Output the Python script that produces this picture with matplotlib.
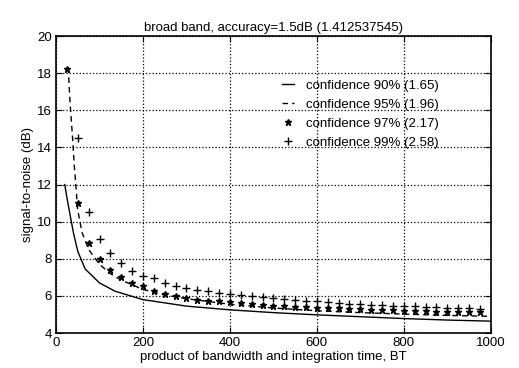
import matplotlib
matplotlib.use('Agg')
import matplotlib.pyplot as plt
import numpy as np

plt.rcParams['font.family'] = ['Liberation Sans', 'DejaVu Sans']

# curves (BT, dB)
bt_90 = [20, 25, 32, 40, 50, 67, 100, 136, 200, 300, 400, 500, 600, 700, 800, 900, 1000]
snr_90 = [12.0, 11.3, 10.4, 9.4, 8.4, 7.45, 6.7, 6.25, 5.8, 5.45, 5.25, 5.1, 4.98, 4.88, 4.78, 4.7, 4.64]

bt_95 = [28, 32, 38, 42, 46, 50, 60, 75, 100, 125, 150, 200, 250, 300, 400, 500, 600, 700, 800, 900, 1000]
snr_95 = [18.3, 16.5, 14.5, 13.0, 11.8, 10.6, 9.4, 8.5, 7.7, 7.2, 6.85, 6.35, 6.05, 5.85, 5.55,
          5.35, 5.2, 5.1, 5.02, 4.95, 4.9]

bt_pts = list(range(25, 1000, 25))
snr_97 = [18.2, 11.0, 8.87, 7.97, 7.42, 7.0, 6.7, 6.52, 6.25, 6.13, 6.02, 5.9, 5.8, 5.75, 5.7,
          5.65, 5.6, 5.55, 5.52, 5.48, 5.45, 5.42, 5.4, 5.37, 5.35, 5.33, 5.3, 5.28, 5.26, 5.24,
          5.22, 5.21, 5.19, 5.18, 5.16, 5.15, 5.14, 5.12, 5.11]
snr_99 = [np.nan, 14.5, 10.5, 9.08, 8.3, 7.8, 7.35, 7.05, 6.97, 6.7, 6.52, 6.43, 6.34, 6.25, 6.17,
          6.1, 6.03, 5.97, 5.92, 5.87, 5.82, 5.78, 5.74, 5.7, 5.66, 5.62, 5.59, 5.56, 5.53, 5.5,
          5.47, 5.45, 5.43, 5.41, 5.39, 5.37, 5.35, 5.33, 5.31]

labels = ['confidence 90% (1.65)', 'confidence 95% (1.96)',
          'confidence 97% (2.17)', 'confidence 99% (2.58)']

fig = plt.figure(figsize=(5.19, 3.68), dpi=100)
ax = fig.add_axes([0.108, 0.095, 0.8375, 0.807])

ax.plot(bt_90, snr_90, '-', color='black', lw=1.0, label=labels[0])
ax.plot(bt_95, snr_95, '--', color='black', lw=1.0, dashes=(4, 3), label=labels[1])
ax.plot(bt_pts, snr_97, '*', color='black', ms=5, ls='none', label=labels[2])
ax.plot(bt_pts, snr_99, '+', color='black', ms=5.5, mew=1.0, ls='none', label=labels[3])

ax.set_xlim(0, 1000)
ax.set_ylim(4, 20)
ax.set_xticks(np.arange(0, 1001, 200))
ax.set_yticks(np.arange(4, 21, 2))
ax.grid(True, linestyle=':', color='black', linewidth=0.9)
ax.tick_params(direction='in', top=True, right=True, labelsize=9.5, length=4, pad=3)
for s in ax.spines.values():
    s.set_linewidth(1.2)

ax.set_title('broad band, accuracy=1.5dB (1.412537545)', fontsize=9.5, pad=4)
ax.set_xlabel('product of bandwidth and integration time, BT', fontsize=9.5, labelpad=1)
ax.set_ylabel('signal-to-noise (dB)', fontsize=9.5, labelpad=2)

ax.legend(loc='upper left', bbox_to_anchor=(0.505, 0.875), frameon=False, fontsize=9.5,
          handlelength=0.9, handletextpad=0.9, labelspacing=0.5, borderpad=0)

fig.savefig('out.png', dpi=100)
